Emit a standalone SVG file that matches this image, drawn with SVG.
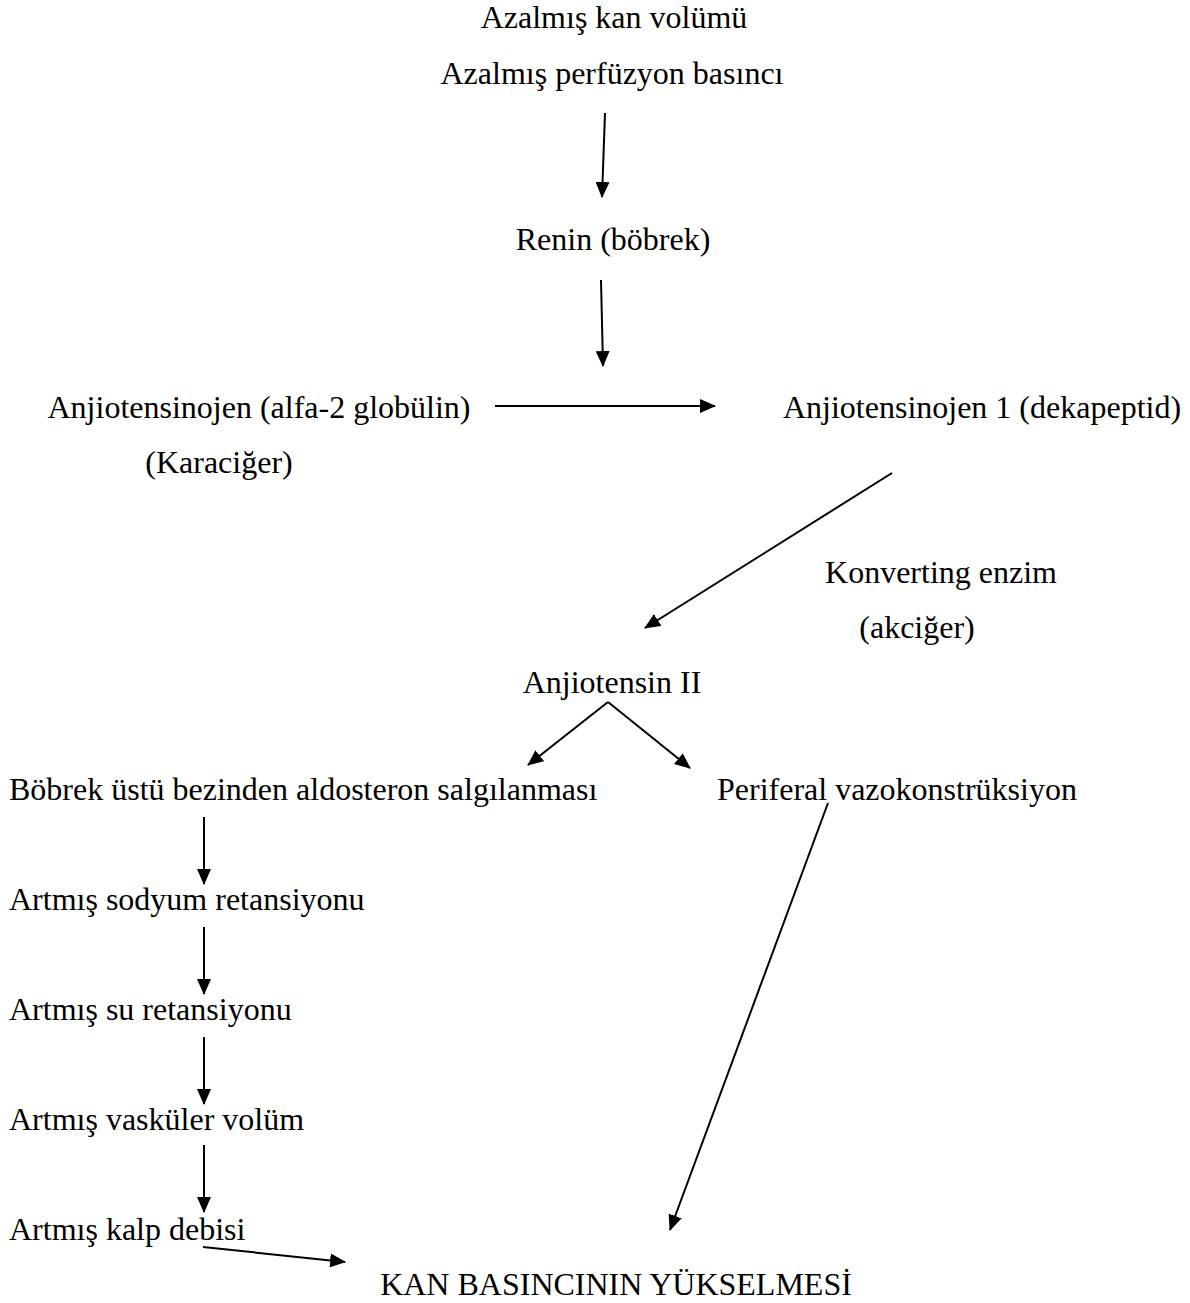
<svg xmlns="http://www.w3.org/2000/svg" width="1190" height="1303" viewBox="0 0 1190 1303">
<style>
text{font-family:"Liberation Serif","Times New Roman",serif;font-size:32px;fill:#000}
.c{text-anchor:middle}
line{stroke:#000;stroke-width:2}
</style>
<defs>
<marker id="ah" markerUnits="userSpaceOnUse" markerWidth="16" markerHeight="14" refX="15" refY="7" orient="auto">
<path d="M0,0 L16,7 L0,14 Z" fill="#000"/>
</marker>
</defs>
<rect width="1190" height="1303" fill="#fff"/>
<g id="n1"><text class="c" x="614" y="28">Azalmış kan volümü</text><text class="c" x="612" y="84">Azalmış perfüzyon basıncı</text></g>
<g id="n2"><text class="c" x="613" y="250">Renin (böbrek)</text></g>
<g id="n3"><text class="c" x="259" y="418">Anjiotensinojen (alfa-2 globülin)</text><text class="c" x="219" y="473">(Karaciğer)</text></g>
<g id="n4"><text class="c" x="982" y="418">Anjiotensinojen 1 (dekapeptid)</text></g>
<g id="n5"><text class="c" x="941" y="583">Konverting enzim</text><text class="c" x="917" y="638">(akciğer)</text></g>
<g id="n6"><text class="c" x="612" y="693">Anjiotensin II</text></g>
<g id="n7"><text x="9" y="800">Böbrek üstü bezinden aldosteron salgılanması</text></g>
<g id="n8"><text x="717" y="800">Periferal vazokonstrüksiyon</text></g>
<g id="n9"><text x="9" y="910">Artmış sodyum retansiyonu</text></g>
<g id="n10"><text x="9" y="1020">Artmış su retansiyonu</text></g>
<g id="n11"><text x="9" y="1130">Artmış vasküler volüm</text></g>
<g id="n12"><text x="9" y="1240">Artmış kalp debisi</text></g>
<g id="n13"><text class="c" x="616" y="1295">KAN BASINCININ YÜKSELMESİ</text></g>
<g id="connectors">
<line x1="605" y1="113" x2="602" y2="197" marker-end="url(#ah)"/>
<line x1="601" y1="280" x2="603" y2="366" marker-end="url(#ah)"/>
<line x1="495" y1="406" x2="715" y2="406" marker-end="url(#ah)"/>
<line x1="892" y1="473" x2="645" y2="628" marker-end="url(#ah)"/>
<line x1="608" y1="702" x2="528" y2="765" marker-end="url(#ah)"/>
<line x1="608" y1="702" x2="690" y2="768" marker-end="url(#ah)"/>
<line x1="204" y1="817" x2="204" y2="884" marker-end="url(#ah)"/>
<line x1="204" y1="927" x2="204" y2="994" marker-end="url(#ah)"/>
<line x1="204" y1="1037" x2="204" y2="1104" marker-end="url(#ah)"/>
<line x1="204" y1="1145" x2="204" y2="1212" marker-end="url(#ah)"/>
<line x1="828" y1="803" x2="670" y2="1230" marker-end="url(#ah)"/>
<line x1="203" y1="1247" x2="345" y2="1262" marker-end="url(#ah)"/>
</g>
</svg>
